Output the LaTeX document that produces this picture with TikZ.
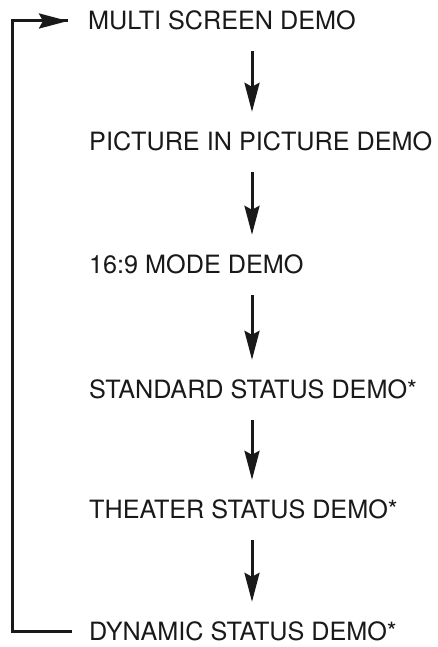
\documentclass[tikz,border=0pt]{standalone}
\usepackage{fontspec}
\setmainfont{TeX Gyre Heros}
\usetikzlibrary{arrows.meta}
\begin{document}
\begin{tikzpicture}[x=1pt,y=1pt,
  lbl/.style={anchor=west,inner sep=0pt,text height=18pt,text depth=0pt,
    font=\fontsize{25.2}{28}\selectfont,text=black!90},
  arr/.style={line width=3pt,black!90,-{Stealth[length=29pt,width=15pt,inset=4pt]}},
  loopline/.style={line width=3pt,black!90}]
\useasboundingbox (0,0) rectangle (438,647);
\node[lbl] (m1) at (88,647-21) {MULTI SCREEN DEMO};
\node[lbl] (m2) at (89,647-142) {PICTURE IN PICTURE DEMO};
\node[lbl] (m3) at (89,647-265) {16:9 MODE DEMO};
\node[lbl] (m4) at (89,647-390) {STANDARD STATUS DEMO*};
\node[lbl] (m5) at (89,647-510) {THEATER STATUS DEMO*};
\node[lbl] (m6) at (89,647-632) {DYNAMIC STATUS DEMO*};
\foreach \a/\b in {m1/m2,m2/m3,m3/m4,m4/m5,m5/m6}{
  \draw[arr,shorten <=21pt,shorten >=21pt] (252,0 |- \a.south) -- (252,0 |- \b.north);
}
\coordinate (cb) at (12,0 |- m6.west);
\coordinate (ct) at (12,0 |- m1.west);
\draw[loopline,line join=miter] ([xshift=-17pt]m6.west) -- (cb) -- (ct)
  -- ([xshift=-20pt]m1.west);
\draw[arr] ([xshift=-48pt]m1.west) -- ([xshift=-20pt]m1.west);
\end{tikzpicture}
\end{document}
